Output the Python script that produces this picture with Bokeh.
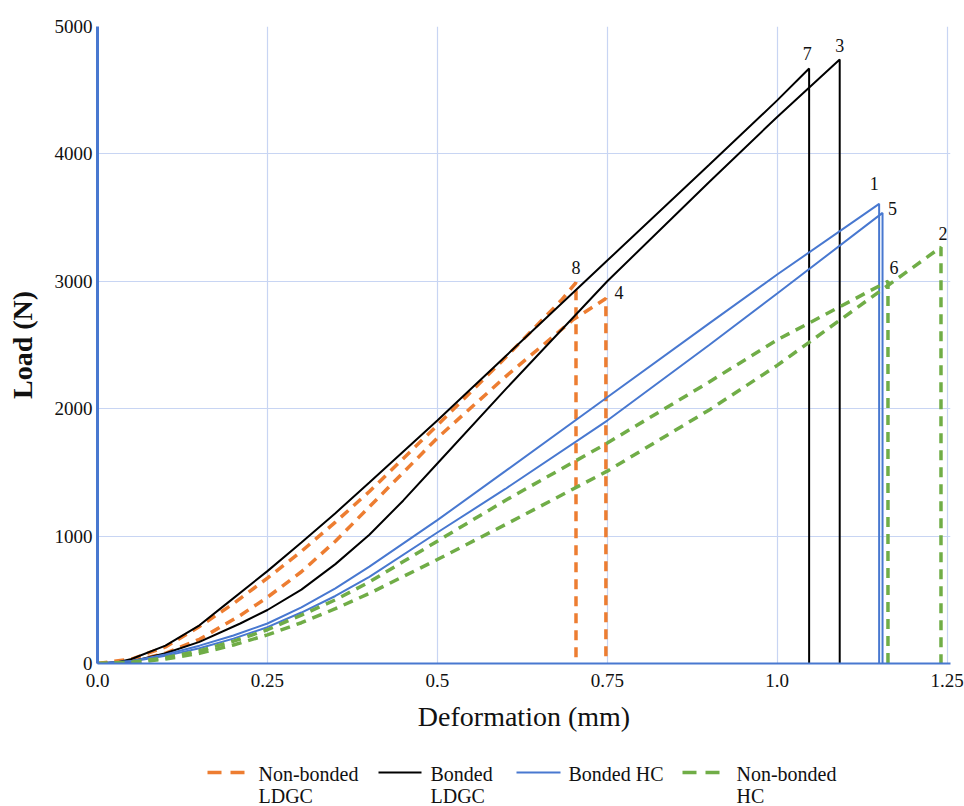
from bokeh.plotting import figure
from bokeh.models import Range1d, ColumnDataSource
from bokeh.layouts import column
from bokeh.embed import file_html
from bokeh.resources import INLINE
from bokeh.core.properties import value

# ---------------- data ----------------
x_ticks = [0.0, 0.25, 0.5, 0.75, 1.0, 1.25]
x_tick_labels = ["0.0", "0.25", "0.5", "0.75", "1.0", "1.25"]
y_ticks = [0, 1000, 2000, 3000, 4000, 5000]

# Non-bonded LDGC (orange dashed), specimens 8 and 4
nb_ldgc_8_x = [0, 0.05, 0.1, 0.15, 0.2, 0.25, 0.3, 0.35, 0.4, 0.5, 0.6, 0.682, 0.704, 0.704]
nb_ldgc_8_y = [0, 35, 130, 290, 470, 670, 880, 1110, 1350, 1870, 2400, 2849, 2990, 0]
nb_ldgc_4_x = [0, 0.05, 0.1, 0.15, 0.21, 0.25, 0.3, 0.35, 0.4, 0.45, 0.5, 0.6, 0.7, 0.748, 0.748]
nb_ldgc_4_y = [0, 15, 80, 190, 377, 520, 720, 960, 1230, 1500, 1770, 2250, 2700, 2865, 0]

# Bonded LDGC (black), specimens 7 and 3
b_ldgc_7_x = [0, 0.03, 0.05, 0.1, 0.15, 0.19, 0.25, 0.3, 0.35, 0.4, 0.5, 0.6, 0.75, 0.9, 1.0, 1.047, 1.047]
b_ldgc_7_y = [0, 10, 35, 140, 300, 470, 725, 950, 1180, 1420, 1907, 2410, 3163, 3915, 4420, 4670, 0]
b_ldgc_3_x = [0, 0.05, 0.1, 0.15, 0.21, 0.25, 0.3, 0.35, 0.4, 0.45, 0.5, 0.6, 0.75, 0.9, 1.0, 1.092, 1.092]
b_ldgc_3_y = [0, 15, 80, 170, 314, 420, 580, 780, 1010, 1280, 1570, 2150, 3000, 3780, 4290, 4741, 0]

# Bonded HC (blue), specimens 1 and 5
b_hc_1_x = [0, 0.05, 0.1, 0.15, 0.2, 0.25, 0.3, 0.35, 0.4, 0.5, 0.6, 0.75, 0.9, 1.0, 1.15, 1.15]
b_hc_1_y = [0, 20, 70, 140, 220, 314, 440, 590, 760, 1125, 1510, 2090, 2670, 3053, 3608, 0]
b_hc_5_x = [0, 0.05, 0.1, 0.15, 0.2, 0.25, 0.3, 0.35, 0.4, 0.5, 0.6, 0.75, 0.9, 1.0, 1.155, 1.155]
b_hc_5_y = [0, 15, 60, 120, 195, 285, 400, 530, 680, 1028, 1370, 1907, 2500, 2904, 3537, 0]

# Non-bonded HC (green dashed), specimens 6 and 2
nb_hc_6_x = [0, 0.05, 0.1, 0.15, 0.2, 0.25, 0.3, 0.35, 0.4, 0.45, 0.5, 0.6, 0.75, 0.9, 1.0, 1.163, 1.163]
nb_hc_6_y = [0, 10, 45, 100, 175, 265, 380, 500, 640, 800, 960, 1280, 1730, 2210, 2540, 3000, 0]
nb_hc_2_x = [0, 0.05, 0.1, 0.15, 0.2, 0.25, 0.3, 0.35, 0.4, 0.5, 0.6, 0.75, 0.9, 1.0, 1.241, 1.241]
nb_hc_2_y = [0, 5, 35, 80, 145, 225, 320, 430, 550, 816, 1090, 1510, 1990, 2340, 3268, 0]

# specimen numbers at peaks
peak_text = ["7", "3", "8", "4", "1", "5", "6", "2"]
peak_x = [1.047, 1.092, 0.704, 0.748, 1.150, 1.155, 1.163, 1.241]
peak_y = [4670, 4741, 2990, 2865, 3608, 3537, 3000, 3268]

legend_line1 = ["Non-bonded", "Bonded", "Bonded HC", "Non-bonded"]
legend_line2 = ["LDGC", "LDGC", "", "HC"]

# ---------------- styles ----------------
ORANGE = "#ED7D31"
BLACK = "#000000"
BLUE = "#4878D0"
GREEN = "#70AD47"
GRID = "#C8D5F3"
SERIF = "'Liberation Serif', 'Times New Roman', 'DejaVu Serif', serif"
DASH = "10 7"

p = figure(width=964, height=746, x_range=Range1d(0, 1.255), y_range=Range1d(0, 5000),
           toolbar_location=None, output_backend="svg",
           min_border_left=97, min_border_right=14, min_border_top=26, min_border_bottom=83)
p.outline_line_color = None

p.line(nb_ldgc_8_x, nb_ldgc_8_y, line_color=ORANGE, line_width=3.5, line_dash=DASH)
p.line(nb_ldgc_4_x, nb_ldgc_4_y, line_color=ORANGE, line_width=3.5, line_dash=DASH)
p.line(b_ldgc_7_x, b_ldgc_7_y, line_color=BLACK, line_width=2)
p.line(b_ldgc_3_x, b_ldgc_3_y, line_color=BLACK, line_width=2)
p.line(b_hc_1_x, b_hc_1_y, line_color=BLUE, line_width=2)
p.line(b_hc_5_x, b_hc_5_y, line_color=BLUE, line_width=2)
p.line(nb_hc_6_x, nb_hc_6_y, line_color=GREEN, line_width=3.5, line_dash=DASH)
p.line(nb_hc_2_x, nb_hc_2_y, line_color=GREEN, line_width=3.5, line_dash=DASH)

dx = [-2, 0, 0, 13, -5, 10, 6, 2]
dy = [-15, -14, -15, -6, -20, -4, -14, -14]
src = ColumnDataSource(dict(x=peak_x, y=peak_y, t=peak_text, dx=dx, dy=dy))
p.text(x="x", y="y", text="t", x_offset="dx", y_offset="dy", source=src,
       text_font=value(SERIF), text_font_size="18px", text_color="#111111",
       text_align="center", text_baseline="middle")

# axes
p.xaxis.ticker = x_ticks
p.yaxis.ticker = y_ticks
p.xaxis.major_label_overrides = dict(zip(x_ticks, x_tick_labels))
for ax in (p.xaxis[0], p.yaxis[0]):
    ax.major_tick_out = 0
    ax.major_tick_in = 0
    ax.minor_tick_out = 0
    ax.minor_tick_in = 0
    ax.major_label_text_font = SERIF
    ax.major_label_text_font_size = "19px"
    ax.major_label_text_color = "#111111"
    ax.axis_label_text_font = SERIF
    ax.axis_label_text_font_size = "28px"
    ax.axis_label_text_color = "#111111"
    ax.axis_line_color = BLUE
p.xaxis.axis_label_text_font_style = "normal"
p.yaxis.axis_label_text_font_style = "bold"
p.yaxis.axis_line_width = 3
p.xaxis.axis_line_width = 2
p.xaxis.major_label_standoff = 10
p.yaxis.major_label_standoff = 5
p.xaxis.axis_label = "Deformation (mm)"
p.yaxis.axis_label = "Load (N)"
p.xaxis.axis_label_standoff = 11
p.yaxis.axis_label_standoff = 14

p.xgrid.ticker = x_ticks
p.ygrid.ticker = y_ticks
p.grid.grid_line_color = GRID
p.grid.grid_line_width = 1.2

# ---------------- legend ----------------
# legend panel frame is aligned with the main plot frame (page x 97..950)
leg = figure(width=964, height=60, x_range=Range1d(97, 950), y_range=Range1d(60, 0),
             toolbar_location=None, output_backend="svg", x_axis_type=None, y_axis_type=None,
             min_border_left=97, min_border_right=14, min_border_top=0, min_border_bottom=0)
leg.outline_line_color = None
leg.grid.visible = False

sample_x0 = [207, 378, 516, 682]
sample_x1 = [245, 421, 560, 727]
text_x = [258, 430, 568, 736]
colors = [ORANGE, BLACK, BLUE, GREEN]
widths = [3.5, 2, 2, 3.5]
dashes = ["14 9", "solid", "solid", "14 9"]
for i in range(4):
    leg.line([sample_x0[i], sample_x1[i]], [26, 26], line_color=colors[i],
             line_width=widths[i], line_dash=dashes[i])
leg.text(x=text_x, y=[27] * 4, text=legend_line1, text_font=value(SERIF),
         text_font_size="20px", text_color="#111111", text_baseline="middle")
leg.text(x=text_x, y=[49] * 4, text=legend_line2, text_font=value(SERIF),
         text_font_size="20px", text_color="#111111", text_baseline="middle")

layout = column(p, leg, spacing=0)
open("out.html", "w").write(file_html(layout, INLINE))
